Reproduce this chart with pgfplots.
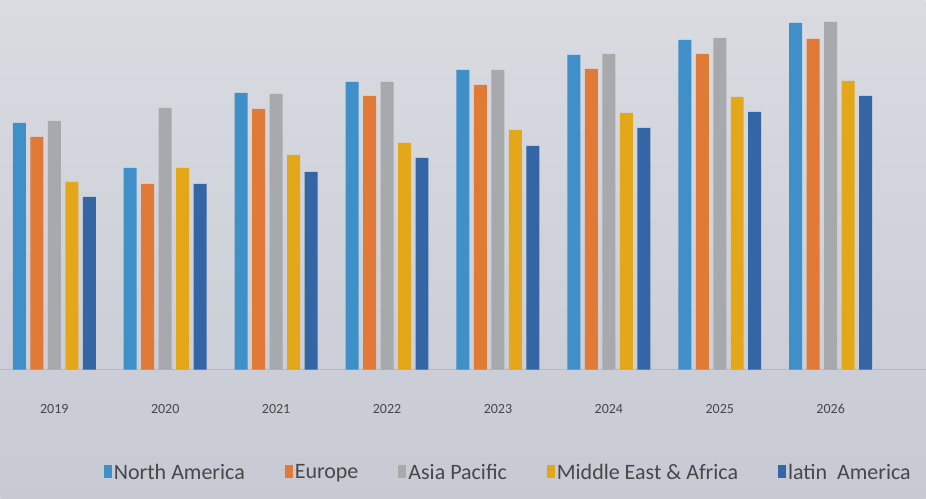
\documentclass[border=0pt]{standalone}
\usepackage{fontspec}
\setmainfont{Carlito}
\usepackage{pgfplots}
\pgfplotsset{compat=1.18}
\definecolor{bgtop}{HTML}{D9DBE1}
\definecolor{bgbot}{HTML}{C7CAD3}
\definecolor{naCol}{HTML}{3F8FC9}
\definecolor{euCol}{HTML}{E27A37}
\definecolor{apCol}{HTML}{A8A9AC}
\definecolor{meCol}{HTML}{E5A71A}
\definecolor{laCol}{HTML}{3466A6}

\begin{document}
\begin{tikzpicture}[x=1pt,y=1pt]
\shade[top color=bgtop,bottom color=bgbot] (0,0) rectangle (926,499);
\begin{axis}[
    at={(0pt,129pt)}, anchor=south west,
    scale only axis, width=926pt, height=370pt,
    xmin=-0.486, xmax=7.856, ymin=0, ymax=370,
    axis x line=bottom, axis y line=none,
    axis line style={-, color=gray!55, line width=0.8pt},
    xtick={0,...,7},
    xticklabels={2019,2020,2021,2022,2023,2024,2025,2026},
    major tick length=0pt,
    xticklabel style={font=\fontsize{14}{16}\selectfont, color=black!72, yshift=-31pt},
    ybar=4.5pt, bar width=13pt,
    legend style={at={(rel axis cs:0.549,-0.278)}, anchor=center,
        legend columns=5, draw=none, fill=none,
        font=\fontsize{22}{25}\selectfont, text=black!72,
        /tikz/every even column/.append style={column sep=38pt}},
    legend image code/.code={\fill[#1] (0pt,-6pt) rectangle (8pt,7pt);},
]
\addplot[fill=naCol, draw=none] coordinates {(0,247) (1,202) (2,277) (3,288) (4,300) (5,315) (6,330) (7,347)};
\addplot[fill=euCol, draw=none] coordinates {(0,233) (1,186) (2,261) (3,274) (4,285) (5,301) (6,316) (7,331)};
\addplot[fill=apCol, draw=none] coordinates {(0,249) (1,262) (2,276) (3,288) (4,300) (5,316) (6,332) (7,348)};
\addplot[fill=meCol, draw=none] coordinates {(0,188) (1,202) (2,215) (3,227) (4,240) (5,257) (6,273) (7,289)};
\addplot[fill=laCol, draw=none] coordinates {(0,173) (1,186) (2,198) (3,212) (4,224) (5,242) (6,258) (7,274)};
\legend{North America, Europe, Asia Pacific, Middle East \& Africa, latin\ \ America}
\end{axis}
\end{tikzpicture}
\end{document}
